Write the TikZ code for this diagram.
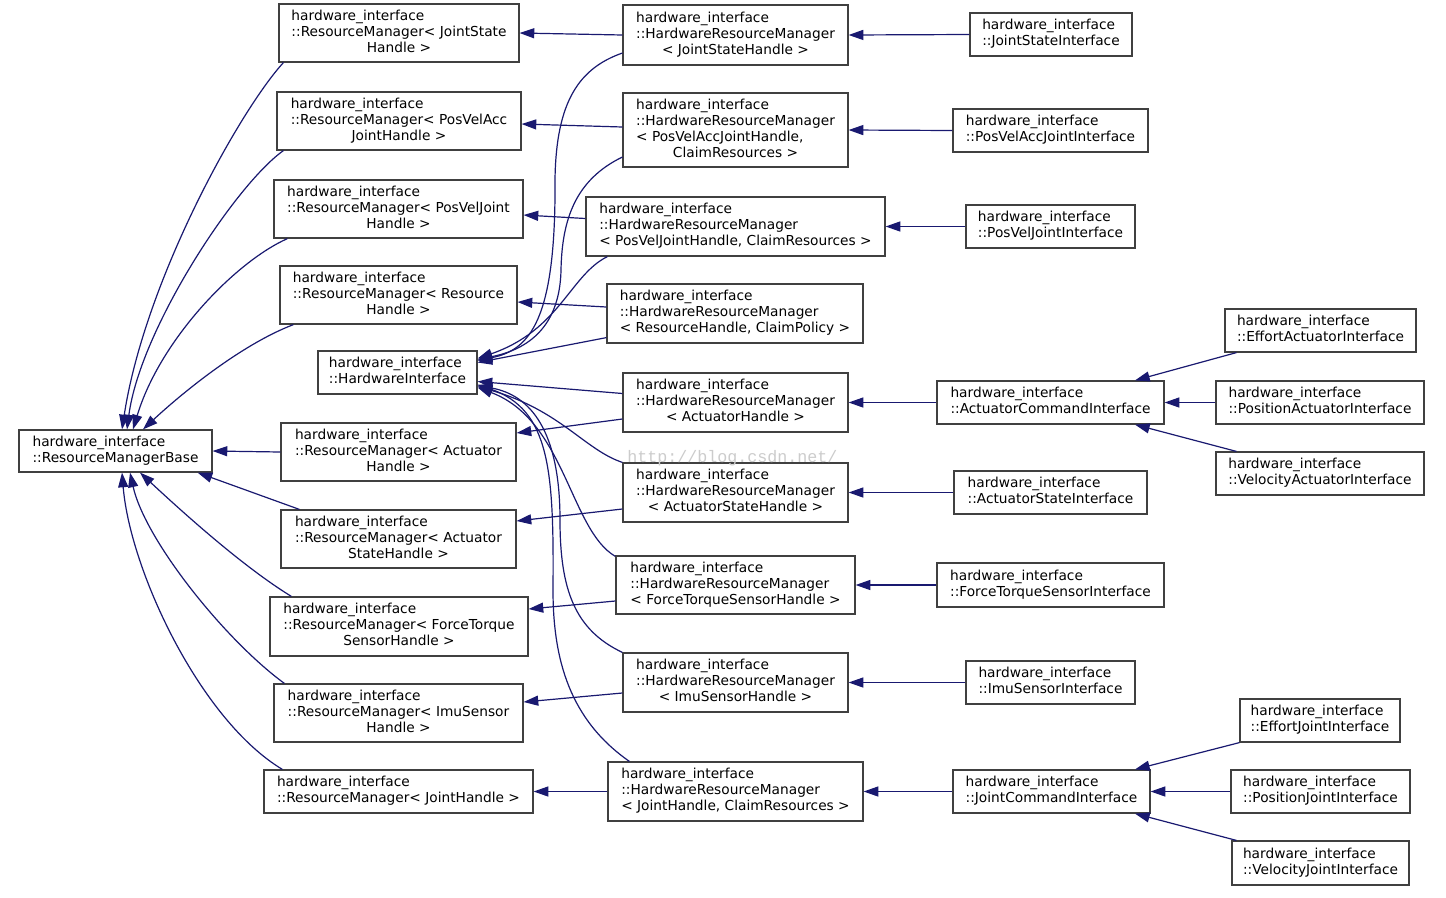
\documentclass[tikz,border=0pt]{standalone}
\usepackage{fontspec}
\setmainfont{DejaVu Sans}
\newfontfamily\wmfont{Liberation Mono}
\usetikzlibrary{arrows.meta,calc}
\definecolor{edgeblue}{HTML}{191970}
\definecolor{boxline}{HTML}{404040}
\newcommand{\hwi}{hardware\_interface}
\newcommand{\cltwo}[2]{\begin{tabular}{@{}l@{}}#1\\#2\end{tabular}}
\newcommand{\clthree}[3]{\begin{tabular}{@{}l@{}}#1\\#2\\\multicolumn{1}{@{}c@{}}{#3}\end{tabular}}
\newcommand{\clfour}[4]{\begin{tabular}{@{}l@{}}#1\\#2\\#3\\\multicolumn{1}{@{}c@{}}{#4}\end{tabular}}
\begin{document}
\begin{tikzpicture}[x=0.75pt,y=-0.75pt,
  cls/.style={draw=boxline,line width=0.9pt,fill=white,inner sep=0pt,
    font=\fontsize{10.3}{12}\selectfont},
  bw/.style={minimum width=#1*0.75pt},
  bh/.style={minimum height=#1*0.75pt},
  inh/.style={draw=edgeblue,line width=0.9pt,-{Triangle[length=11pt,width=7.5pt]}},
  wm/.style={text=gray!40,font=\wmfont\fontsize{12.5}{14}\selectfont,inner sep=0pt}]
\fill[white] (0,0) rectangle (1446,897);
\useasboundingbox (0,0) rectangle (1446,897);

% base
\node[cls,bw=193,bh=42] (rmb) at (115.5,451) {\cltwo{\hwi}{::ResourceManagerBase}};

% ResourceManager column
\node[cls,bw=240,bh=58] (rmjs) at (399,33) {\clthree{\hwi}{::ResourceManager< JointState}{Handle >}};
\node[cls,bw=244,bh=58] (rmpva) at (399,121) {\clthree{\hwi}{::ResourceManager< PosVelAcc}{JointHandle >}};
\node[cls,bw=249,bh=58] (rmpvj) at (398.5,209) {\clthree{\hwi}{::ResourceManager< PosVelJoint}{Handle >}};
\node[cls,bw=237,bh=58] (rmres) at (398.5,295) {\clthree{\hwi}{::ResourceManager< Resource}{Handle >}};
\node[cls,bw=159,bh=43] (hi) at (397.5,372.5) {\cltwo{\hwi}{::HardwareInterface}};
\node[cls,bw=235,bh=58] (rmact) at (398.5,452) {\clthree{\hwi}{::ResourceManager< Actuator}{Handle >}};
\node[cls,bw=235,bh=58] (rmas) at (398.5,539) {\clthree{\hwi}{::ResourceManager< Actuator}{StateHandle >}};
\node[cls,bw=258,bh=59] (rmft) at (399,626.5) {\clthree{\hwi}{::ResourceManager< ForceTorque}{SensorHandle >}};
\node[cls,bw=249,bh=58] (rmimu) at (398.5,713) {\clthree{\hwi}{::ResourceManager< ImuSensor}{Handle >}};
\node[cls,bw=269,bh=43] (rmjh) at (398.5,791.5) {\cltwo{\hwi}{::ResourceManager< JointHandle >}};

% HardwareResourceManager column
\node[cls,bw=225,bh=60] (hrmjs) at (735.5,35) {\clthree{\hwi}{::HardwareResourceManager}{< JointStateHandle >}};
\node[cls,bw=225,bh=74] (hrmpva) at (735.5,130) {\clfour{\hwi}{::HardwareResourceManager}{< PosVelAccJointHandle,}{ClaimResources >}};
\node[cls,bw=299,bh=59] (hrmpvj) at (735.5,226.5) {\clthree{\hwi}{::HardwareResourceManager}{< PosVelJointHandle, ClaimResources >}};
\node[cls,bw=256,bh=59] (hrmres) at (735,313.5) {\clthree{\hwi}{::HardwareResourceManager}{< ResourceHandle, ClaimPolicy >}};
\node[cls,bw=225,bh=59] (hrmact) at (735.5,402.5) {\clthree{\hwi}{::HardwareResourceManager}{< ActuatorHandle >}};
\node[cls,bw=225,bh=59] (hrmas) at (735.5,492.5) {\clthree{\hwi}{::HardwareResourceManager}{< ActuatorStateHandle >}};
\node[cls,bw=239,bh=58] (hrmft) at (735.5,585) {\clthree{\hwi}{::HardwareResourceManager}{< ForceTorqueSensorHandle >}};
\node[cls,bw=225,bh=59] (hrmimu) at (735.5,682.5) {\clthree{\hwi}{::HardwareResourceManager}{< ImuSensorHandle >}};
\node[cls,bw=255,bh=59] (hrmjh) at (735.5,791.5) {\clthree{\hwi}{::HardwareResourceManager}{< JointHandle, ClaimResources >}};

% Interface column
\node[cls,bw=162,bh=43] (jsi) at (1051,34.5) {\cltwo{\hwi}{::JointStateInterface}};
\node[cls,bw=195,bh=43] (pvaji) at (1050.5,130.5) {\cltwo{\hwi}{::PosVelAccJointInterface}};
\node[cls,bw=169,bh=43] (pvji) at (1050.5,226.5) {\cltwo{\hwi}{::PosVelJointInterface}};
\node[cls,bw=227,bh=43] (aci) at (1050.5,402.5) {\cltwo{\hwi}{::ActuatorCommandInterface}};
\node[cls,bw=193,bh=43] (asi) at (1050.5,492.5) {\cltwo{\hwi}{::ActuatorStateInterface}};
\node[cls,bw=227,bh=44] (ftsi) at (1050.5,585) {\cltwo{\hwi}{::ForceTorqueSensorInterface}};
\node[cls,bw=169,bh=43] (isi) at (1050.5,682.5) {\cltwo{\hwi}{::ImuSensorInterface}};
\node[cls,bw=197,bh=43] (jci) at (1051.5,791.5) {\cltwo{\hwi}{::JointCommandInterface}};

% rightmost column
\node[cls,bw=191,bh=43] (eai) at (1320.5,330.5) {\cltwo{\hwi}{::EffortActuatorInterface}};
\node[cls,bw=208,bh=43] (pai) at (1320,402.5) {\cltwo{\hwi}{::PositionActuatorInterface}};
\node[cls,bw=208,bh=43] (vai) at (1320,473.5) {\cltwo{\hwi}{::VelocityActuatorInterface}};
\node[cls,bw=160,bh=43] (eji) at (1320,720.5) {\cltwo{\hwi}{::EffortJointInterface}};
\node[cls,bw=179,bh=43] (pji) at (1320.5,791.5) {\cltwo{\hwi}{::PositionJointInterface}};
\node[cls,bw=177,bh=44] (vji) at (1320.5,863) {\cltwo{\hwi}{::VelocityJointInterface}};

% ResourceManager -> ResourceManagerBase
\draw[inh] ($(rmjs.south west)+(5,0)$) .. controls (240,110) and (145,280) .. ($(rmb.north)+(6.5,0)$);
\draw[inh] ($(rmpva.south west)+(7,0)$) .. controls (235,185) and (140,330) .. ($(rmb.north)+(11.5,0)$);
\draw[inh] ($(rmpvj.south west)+(14,0)$) .. controls (235,262) and (160,340) .. ($(rmb.north)+(17.5,0)$);
\draw[inh] ($(rmres.south west)+(14,0)$) .. controls (240,345) and (180,395) .. ($(rmb.north)+(27.5,0)$);
\draw[inh] (rmact.west) -- (rmb.east);
\draw[inh] ($(rmas.north west)+(19,0)$) -- ($(rmb.south east)+(-15,0)$);
\draw[inh] ($(rmft.north west)+(22,0)$) .. controls (240,565) and (175,505) .. ($(rmb.south)+(24.5,0)$);
\draw[inh] ($(rmimu.north west)+(11,0)$) .. controls (225,640) and (145,540) .. ($(rmb.south)+(14.5,0)$);
\draw[inh] ($(rmjh.north west)+(19,0)$) .. controls (200,720) and (130,570) .. ($(rmb.south)+(6.5,0)$);

% HardwareResourceManager -> HardwareInterface
\draw[inh] ($(hrmjs.west)+(0,18)$) .. controls (580,68) and (556,100) .. (555,180) .. controls (556,320) and (530,350) .. ($(hi.east)+(0,-12)$);
\draw[inh] ($(hrmpva.west)+(0,27)$) .. controls (575,180) and (562,220) .. (561,270) .. controls (560,320) and (535,348) .. ($(hi.east)+(0,-13)$);
\draw[inh] ($(hrmpvj.south west)+(22,0)$) .. controls (570,275) and (560,330) .. ($(hi.east)+(0,-14)$);
\draw[inh] ($(hrmres.south west)+(0,-6)$) -- ($(hi.east)+(0,-10)$);
\draw[inh] ($(hrmact.west)+(0,-9)$) -- ($(hi.east)+(0,9)$);
\draw[inh] (hrmas.north west) .. controls (585,450) and (560,410) .. ($(hi.east)+(0,14)$);
\draw[inh] ($(hrmft.north west)+(0,1)$) .. controls (570,530) and (565,420) .. ($(hi.east)+(0,15)$);
\draw[inh] (hrmimu.north west) .. controls (575,630) and (560,590) .. (560,520) .. controls (560,430) and (530,395) .. ($(hi.east)+(0,13)$);
\draw[inh] ($(hrmjh.north west)+(22,0)$) .. controls (570,720) and (553,660) .. (553,590) .. controls (554,470) and (550,410) .. ($(hi.east)+(0,12)$);

% HardwareResourceManager -> ResourceManager
\draw[inh] (hrmjs.west) -- (rmjs.east);
\draw[inh] ($(hrmpva.west)+(0,-3)$) -- ($(rmpva.east)+(0,3)$);
\draw[inh] ($(hrmpvj.west)+(0,-8)$) -- ($(rmpvj.east)+(0,6)$);
\draw[inh] ($(hrmres.west)+(0,-6.5)$) -- ($(rmres.east)+(0,7)$);
\draw[inh] ($(hrmact.west)+(0,16.5)$) -- ($(rmact.east)+(0,-19)$);
\draw[inh] ($(hrmas.west)+(0,16.5)$) -- ($(rmas.east)+(0,-18)$);
\draw[inh] ($(hrmft.west)+(0,16)$) -- ($(rmft.east)+(0,-17.5)$);
\draw[inh] ($(hrmimu.west)+(0,10.5)$) -- ($(rmimu.east)+(0,-11)$);
\draw[inh] (hrmjh.west) -- (rmjh.east);

% Interfaces -> HardwareResourceManager
\draw[inh] (jsi.west) -- (hrmjs.east);
\draw[inh] (pvaji.west) -- (hrmpva.east);
\draw[inh] (pvji.west) -- (hrmpvj.east);
\draw[inh] (aci.west) -- (hrmact.east);
\draw[inh] (asi.west) -- (hrmas.east);
\draw[inh] (ftsi.west) -- (hrmft.east);
\draw[inh] (isi.west) -- (hrmimu.east);
\draw[inh] (jci.west) -- (hrmjh.east);

% rightmost -> command interfaces
\draw[inh] ($(eai.south west)+(12,0)$) -- ($(aci.north)+(84.5,0)$);
\draw[inh] (pai.west) -- (aci.east);
\draw[inh] ($(vai.north west)+(21,0)$) -- ($(aci.south)+(84.5,0)$);
\draw[inh] (eji.south west) -- ($(jci.north)+(83.5,0)$);
\draw[inh] (pji.west) -- (jci.east);
\draw[inh] ($(vji.north west)+(5,0)$) -- ($(jci.south)+(83.5,0)$);

% watermark
\node[wm] (wmark) at (732.5,458) {http://blog.csdn.net/};
\end{tikzpicture}
\end{document}
